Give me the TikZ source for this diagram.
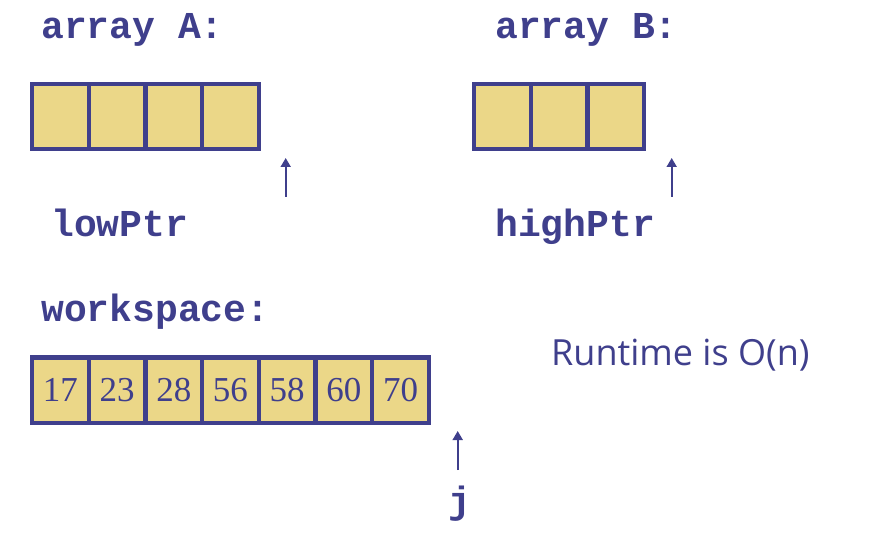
\documentclass[tikz,border=0pt]{standalone}
\usepackage{fontspec}
\setmainfont{Liberation Serif}
\setmonofont{Liberation Mono}
\newfontfamily\runfont{Open Sans}
\usepackage{tikz}
\usetikzlibrary{positioning, arrows.meta}
\definecolor{slidenavy}{HTML}{3F3F8C}
\definecolor{cellyellow}{HTML}{EBD788}

\tikzset{
  cell/.style={draw=slidenavy, fill=cellyellow, line width=4.2pt,
               minimum width=56.7pt, minimum height=65.5pt, inner sep=0pt, outer sep=0pt,
               text=slidenavy, font=\fontsize{35}{35}\selectfont},
  codelabel/.style={anchor=base west, inner sep=0pt, text=slidenavy,
                    font=\ttfamily\bfseries\fontsize{38}{40}\selectfont},
  ptr/.style={draw=slidenavy, line width=1.8pt, -{Triangle[length=9pt, width=10pt]}},
}

\begin{document}
\begin{tikzpicture}[x=1pt, y=-1pt]
    \useasboundingbox (0,0) rectangle (870,545);

    % array A, four empty cells
    \node[codelabel] (labelA) at (41,39) {array A:};
    \node[cell] (a1) at (60.35,116.65) {};
    \foreach \i [count=\p from 1] in {2,...,4}
      \node[cell, right=0pt of a\p] (a\i) {};
    \coordinate (lowTail) at (285.7,197);
    \coordinate (lowTip) at (285.7,158);
    \draw[ptr] (lowTail) -- (lowTip);
    \node[codelabel] (lowPtr) at (51,237) {lowPtr};

    % array B, three empty cells
    \node[codelabel] (labelB) at (495,39) {array B:};
    \node[cell] (b1) at (502.35,116.65) {};
    \foreach \i [count=\p from 1] in {2,3}
      \node[cell, right=0pt of b\p] (b\i) {};
    \coordinate (highTail) at (671.7,197);
    \coordinate (highTip) at (671.7,158);
    \draw[ptr] (highTail) -- (highTip);
    \node[codelabel] (highPtr) at (495,237) {highPtr};

    % workspace after the merge
    \node[codelabel] (labelW) at (41,321) {workspace:};
    \node[cell] (w1) at (60.35,390.3) {17};
    \foreach \v [count=\i from 2] in {23,28,56,58,60,70} {
      \pgfmathtruncatemacro\p{\i-1}
      \node[cell, right=0pt of w\p] (w\i) {\v};
    }
    \coordinate (jTail) at (457.7,470);
    \coordinate (jTip) at (457.7,431);
    \draw[ptr] (jTail) -- (jTip);
    \node[codelabel] (labelJ) at (448,513) {j};

    \node[anchor=base west, inner sep=0pt, text=slidenavy,
          font=\runfont\fontsize{36}{40}\selectfont] (runtime) at (551,365) {Runtime is O(n)};
\end{tikzpicture}
\end{document}
